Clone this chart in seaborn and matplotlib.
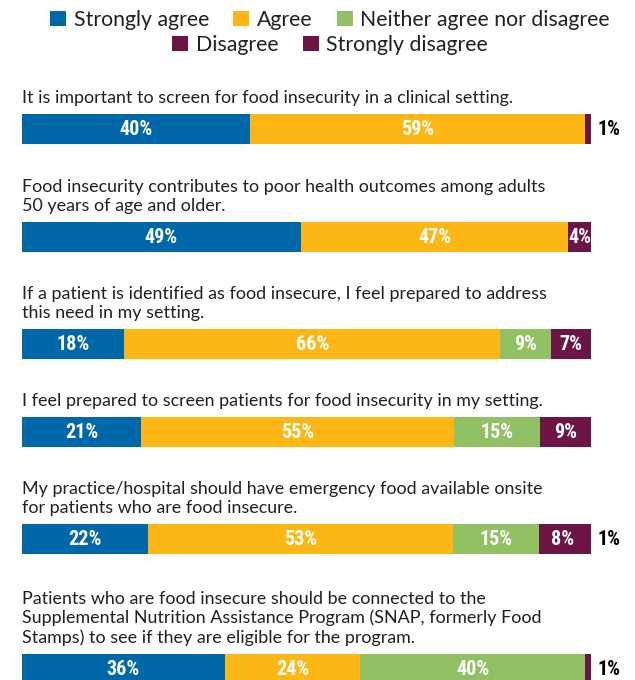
import matplotlib
matplotlib.use("Agg")
import matplotlib.pyplot as plt
import seaborn as sns
import pandas as pd
import numpy as np
from matplotlib.patches import Patch

# ---------------- data ----------------
questions = [
    "It is important to screen for food insecurity in a clinical setting.",
    "Food insecurity contributes to poor health outcomes among adults\n50 years of age and older.",
    "If a patient is identified as food insecure, I feel prepared to address\nthis need in my setting.",
    "I feel prepared to screen patients for food insecurity in my setting.",
    "My practice/hospital should have emergency food available onsite\nfor patients who are food insecure.",
    "Patients who are food insecure should be connected to the\nSupplemental Nutrition Assistance Program (SNAP, formerly Food\nStamps) to see if they are eligible for the program.",
]
categories = ["Strongly agree", "Agree", "Neither agree nor disagree",
              "Disagree", "Strongly disagree"]
strongly_agree = [40, 49, 18, 21, 22, 36]
agree = [59, 47, 66, 55, 53, 24]
neither = [0, 0, 9, 15, 15, 40]
disagree = [0, 4, 7, 9, 8, 0]
strongly_disagree = [1, 0, 0, 0, 1, 1]

colors = ["#0068A8", "#FDB715", "#92C163", "#6C1443", "#6C1443"]
text_color = "#231F20"

# ---------------- layout ----------------
W, H = 635, 680
fig = plt.figure(figsize=(W / 100, H / 100), dpi=100)
sns.set_style("white")
plt.rcParams["font.family"] = ["Lato", "DejaVu Sans"]

bar_left, bar_width, bar_h = 22, 569, 30
bar_tops = [114, 222, 329, 417, 524, 654]
label_font = ["Roboto Condensed", "Liberation Sans Narrow", "Roboto", "DejaVu Sans"]

series = [strongly_agree, agree, neither, disagree, strongly_disagree]

for i, q in enumerate(questions):
    top = bar_tops[i]
    ax = fig.add_axes([bar_left / W, 1 - (top + bar_h) / H, bar_width / W, bar_h / H])
    vals = np.array([s[i] for s in series], dtype=float)
    total = vals.sum()
    cum = np.cumsum(vals) / total * 100
    # draw stacked bars from longest to shortest
    for k in range(len(categories) - 1, -1, -1):
        if vals[k] == 0:
            continue
        df = pd.DataFrame({"value": [cum[k]], "question": [q]})
        sns.barplot(data=df, x="value", y="question", color=colors[k],
                    saturation=1, width=1, linewidth=0, ax=ax, errorbar=None)
    ax.set_xlim(0, 100)
    ax.set_ylim(0.5, -0.5)
    ax.axis("off")
    # segment labels
    prev = 0
    for k in range(len(categories)):
        v = vals[k]
        if v == 0:
            continue
        start = prev
        prev = cum[k]
        if v > 1:
            ax.text((start + cum[k]) / 2, 0.03, f"{int(v)}%", ha="center", va="center",
                    color="white", fontsize=14.5, fontweight="bold", family=label_font)
        else:
            ax.annotate(f"{int(v)}%", xy=(1, 0.47), xycoords="axes fraction",
                        xytext=(4.5, 0), textcoords="offset points",
                        ha="left", va="center", color="black", fontsize=14.5,
                        fontweight="bold", family=label_font)
    # question text
    ax.annotate(q, xy=(0, 1), xycoords="axes fraction", xytext=(0, 6),
                textcoords="offset points", ha="left", va="bottom",
                color=text_color, fontsize=12.9, linespacing=1.2)

# ---------------- legend ----------------
handles = [Patch(facecolor=c, edgecolor="none", label=l) for c, l in zip(colors, categories)]
common = dict(frameon=False, handlelength=0.75, handleheight=0.75, handletextpad=0.35,
              columnspacing=1.15, fontsize=15.3, labelcolor=text_color, borderpad=0,
              loc="center")
leg1 = fig.legend(handles=handles[:3], ncol=3, bbox_to_anchor=(330 / W, 1 - 20 / H), **common)
leg2 = fig.legend(handles=handles[3:], ncol=2, bbox_to_anchor=(330 / W, 1 - 45 / H), **common)

fig.savefig("out.png", dpi=100)
